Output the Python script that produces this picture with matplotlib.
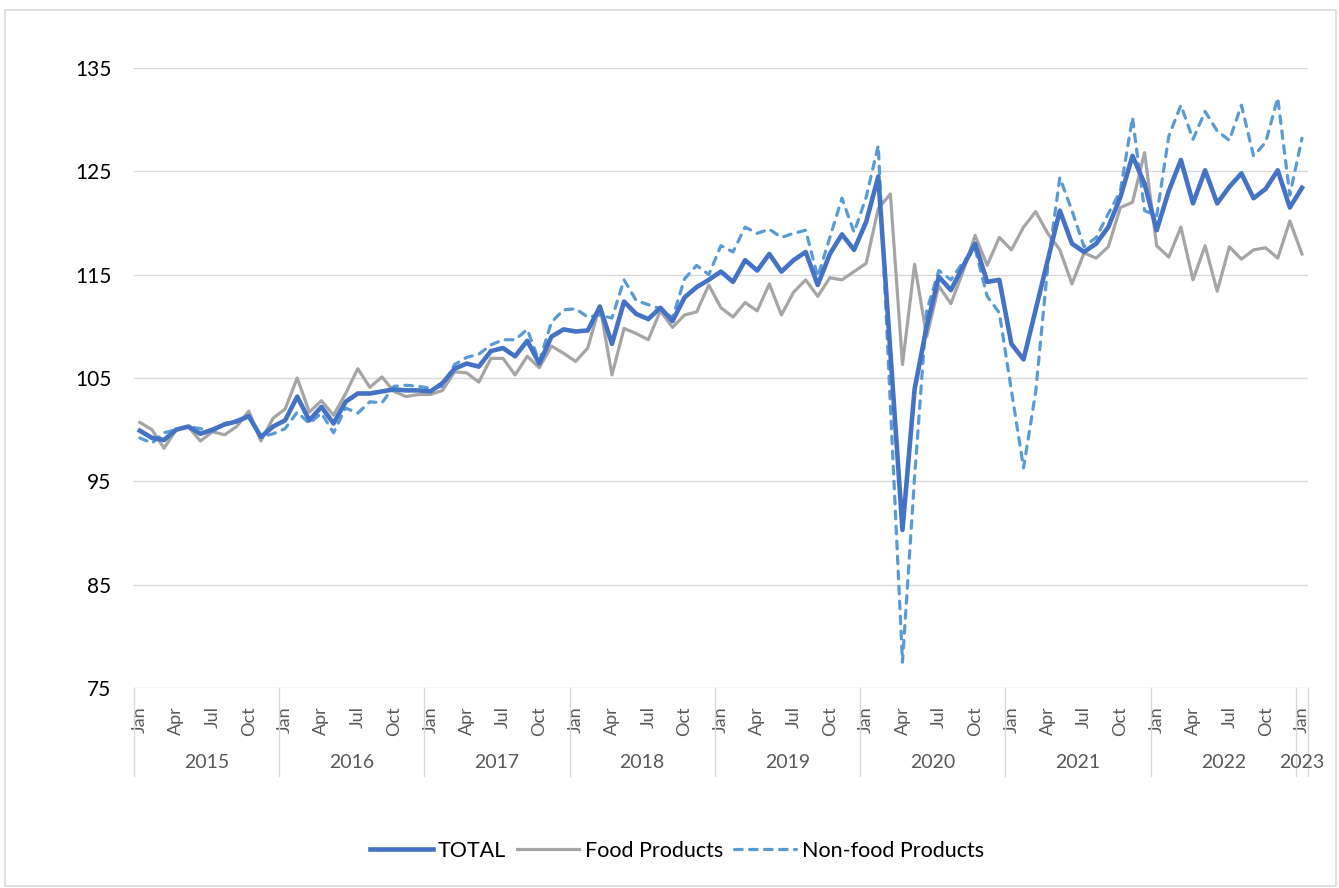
import matplotlib
matplotlib.use("Agg")
import matplotlib.pyplot as plt
from matplotlib.patches import Rectangle
from matplotlib.lines import Line2D
import matplotlib.transforms as mtransforms

plt.rcParams['font.family'] = ['Lato', 'DejaVu Sans']

years = [2015, 2016, 2017, 2018, 2019, 2020, 2021, 2022, 2023]
month_names = ["Jan", "Feb", "Mar", "Apr", "May", "Jun", "Jul", "Aug", "Sep", "Oct", "Nov", "Dec"]

total = [99.9, 99.2, 99.0, 100.0, 100.3, 99.6, 100.0, 100.5, 100.8, 101.3, 99.3, 100.3,
         100.9, 103.2, 100.9, 102.2, 100.6, 102.7, 103.5, 103.5, 103.7, 103.9, 103.8, 103.8,
         103.7, 104.5, 105.9, 106.4, 106.1, 107.6, 107.9, 107.1, 108.6, 106.4, 109.0, 109.7,
         109.5, 109.6, 111.9, 108.3, 112.4, 111.2, 110.7, 111.8, 110.5, 112.8, 113.8, 114.5,
         115.3, 114.3, 116.4, 115.4, 117.0, 115.3, 116.4, 117.2, 114.0, 117.0, 118.9, 117.4,
         120.1, 124.5, 107.5, 90.3, 103.9, 110.0, 114.8, 113.5, 115.8, 118.0, 114.3, 114.5,
         108.3, 106.8, 111.6, 116.4, 121.2, 118.0, 117.2, 118.0, 119.6, 122.5, 126.5, 123.8,
         119.3, 123.1, 126.1, 121.9, 125.1, 121.9, 123.5, 124.8, 122.4, 123.3, 125.1, 121.5,
         123.4]

food = [100.7, 100.0, 98.2, 100.0, 100.3, 98.9, 99.8, 99.5, 100.3, 101.8, 98.9, 101.1,
        102.0, 105.0, 101.7, 102.8, 101.4, 103.5, 105.9, 104.1, 105.1, 103.7, 103.2, 103.4,
        103.4, 103.8, 105.6, 105.5, 104.6, 106.9, 106.9, 105.3, 107.1, 106.0, 108.1, 107.4,
        106.6, 107.9, 112.0, 105.3, 109.8, 109.3, 108.7, 111.5, 109.9, 111.1, 111.4, 114.0,
        111.8, 110.9, 112.3, 111.5, 114.1, 111.1, 113.3, 114.5, 112.9, 114.7, 114.5, 115.3,
        116.1, 121.4, 122.8, 106.3, 116.0, 109.0, 113.9, 112.2, 115.3, 118.8, 115.9, 118.6,
        117.4, 119.6, 121.1, 119.0, 117.4, 114.1, 117.1, 116.6, 117.7, 121.5, 122.0, 126.8,
        117.8, 116.7, 119.6, 114.5, 117.8, 113.4, 117.7, 116.5, 117.4, 117.6, 116.6, 120.2,
        117.0]

nonfood = [99.2, 98.7, 99.7, 100.0, 100.3, 100.1, 99.8, 100.6, 100.9, 101.3, 99.3, 99.6,
           100.1, 101.7, 100.6, 101.6, 99.7, 102.1, 101.6, 102.7, 102.6, 104.2, 104.3, 104.2,
           104.0, 104.2, 106.3, 107.0, 107.3, 108.2, 108.7, 108.7, 109.7, 106.6, 110.4, 111.6,
           111.7, 110.9, 111.1, 110.8, 114.5, 112.5, 112.1, 111.7, 110.8, 114.6, 115.9, 115.0,
           117.8, 117.2, 119.6, 119.0, 119.4, 118.6, 119.0, 119.3, 114.8, 118.6, 122.4, 119.1,
           122.5, 127.5, 102.4, 77.5, 95.4, 111.5, 115.4, 114.5, 116.2, 117.5, 112.9, 111.3,
           103.8, 96.3, 103.6, 115.8, 124.4, 121.2, 117.7, 118.6, 120.9, 123.1, 130.2, 121.2,
           120.7, 128.4, 131.4, 128.1, 130.8, 128.9, 128.0, 131.4, 126.5, 127.8, 132.1, 122.7,
           128.2]

y_ticks = [75, 85, 95, 105, 115, 125, 135]

n = len(total)
x = list(range(n))

W, H = 1339, 888
fig = plt.figure(figsize=(W / 100, H / 100), dpi=100)
ax = fig.add_axes([133.8 / W, 1 - 688 / H, (1308 - 133.8) / W, (688 - 68) / H])

# outer chart border
fig.patches.append(Rectangle((5 / W, 2 / H), (1336 - 5) / W, (878 - 2) / H,
                             transform=fig.transFigure, fill=False,
                             edgecolor='#D9D9D9', linewidth=1.2))

grid_c = '#D9D9D9'
ax.set_ylim(75, 135)
ax.set_xlim(-0.5, n - 0.5)
ax.set_yticks(y_ticks)
ax.set_yticklabels([str(v) for v in y_ticks])
for v in y_ticks:
    ax.axhline(v, color=grid_c, linewidth=1.0, zorder=0)

for s in ['top', 'right', 'left', 'bottom']:
    ax.spines[s].set_visible(False)

ax.plot(x, food, color='#A5A5A5', linewidth=2.3, solid_joinstyle='round', zorder=3)
ax.plot(x, nonfood, color='#5B9BD5', linewidth=2.3, dashes=(2.4, 2.3),
        dash_capstyle='round', dash_joinstyle='round', zorder=4)
ax.plot(x, total, color='#4472C4', linewidth=3.3, solid_joinstyle='round', zorder=5)

# month tick labels
tick_pos = []
tick_lab = []
for i in range(n):
    m = i % 12
    if m in (0, 3, 6, 9):
        tick_pos.append(i)
        tick_lab.append(month_names[m])
ax.set_xticks(tick_pos)
ax.set_xticklabels(tick_lab, rotation=90, va='top', ha='center')
ax.tick_params(axis='x', length=0, pad=13, labelsize=13, labelcolor='#595959')
ax.tick_params(axis='y', length=0, pad=16, labelsize=15, labelcolor='#000000')

trans = mtransforms.blended_transform_factory(ax.transData, ax.transAxes)
y_year = -(762 - 688) / 620
y_sep = -(776 - 688) / 620
seps = [k * 12 - 0.5 for k in range(len(years))] + [n - 0.5]
for sx in seps:
    ax.add_line(Line2D([sx, sx], [0, y_sep], transform=trans, color=grid_c,
                       linewidth=1.0, clip_on=False))
for k, yr in enumerate(years):
    start = k * 12
    end = min(start + 11, n - 1)
    ax.text((start + end) / 2, y_year, str(yr), transform=trans, ha='center',
            va='center', fontsize=14, color='#595959')

handles = [Line2D([], [], color='#4472C4', linewidth=3.3),
           Line2D([], [], color='#A5A5A5', linewidth=2.3),
           Line2D([], [], color='#5B9BD5', linewidth=2.3, dashes=(2.4, 2.3),
                  dash_capstyle='round')]
fig.legend(handles, ['TOTAL', 'Food Products', 'Non-food Products'],
           loc='center', bbox_to_anchor=(677 / W, 1 - 851 / H), ncol=3,
           frameon=False, fontsize=15.5, handlelength=2.9, handletextpad=0.25,
           columnspacing=0.5)

fig.savefig('out.png', dpi=100)
